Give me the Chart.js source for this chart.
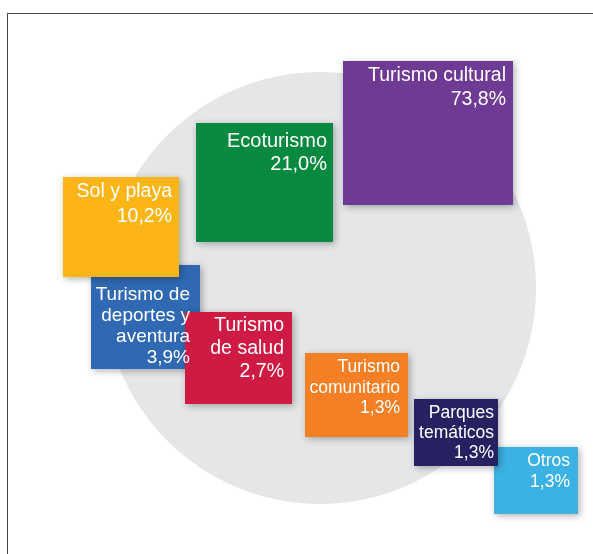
<!DOCTYPE html>
<html>
<head>
<meta charset="utf-8">
<script src="https://cdn.jsdelivr.net/npm/chart.js@4.4.1/dist/chart.umd.min.js"></script>
<style>
  html, body { margin: 0; padding: 0; background: #ffffff; }
  #wrap { position: relative; width: 593px; height: 554px; overflow: hidden; }
  #wrap canvas { position: absolute; left: 0; top: 0; }
  #frame {
    position: absolute; left: 7px; top: 13px; right: -2px; bottom: -2px;
    border-top: 1.5px solid #474747; border-left: 1.5px solid #474747;
    pointer-events: none;
  }
</style>
</head>
<body>
<div id="wrap">
  <canvas id="chart" width="593" height="554"></canvas>
  <div id="frame"></div>
</div>
<script>
// Tourism types (label lines) and their shares, in %
const categories = [
  ['Turismo cultural'],
  ['Ecoturismo'],
  ['Sol y playa'],
  ['Turismo de', 'deportes y', 'aventura'],
  ['Turismo', 'de salud'],
  ['Turismo', 'comunitario'],
  ['Parques', 'temáticos'],
  ['Otros']
];
const shares = [73.8, 21.0, 10.2, 3.9, 2.7, 1.3, 1.3, 1.3];

// Tile colours
const tileColors = ['#6f3a94', '#07893f', '#fcb517', '#2f69b3', '#cf1b43', '#f47f24', '#262262', '#3bb2e3'];

// Tile placement in plan units (x to the right, y downwards)
const tileLeft   = [343, 196,  63,  91, 185, 305, 414, 494];
const tileRight  = [513, 333, 179, 200, 292, 408, 498, 578];
const tileTop    = [ 61, 123, 177, 265, 312, 353, 399, 447];
const tileBottom = [205, 242, 277, 369, 404, 437, 466, 514];
// Painting order (later ones sit on top)
const drawOrder = [3, 0, 1, 2, 4, 5, 7, 6];

// Label styling per tile
const fontSizes   = [19.5, 20, 19.5, 19, 19.5, 17.5, 17.5, 17.5];
const lineHeights = [24, 23, 25, 21, 23, 20.5, 20, 21];
const textTop     = [20, 24, 20, 35, 19, 19, 19, 19];
const textRight   = [7, 6, 7, 10, 8, 8, 4, 8];

// Backdrop disc
const disc = { x: 320, y: 288, r: 216, color: '#e4e6e8' };

const fmtShare = v => v.toFixed(1).replace('.', ',') + '%';

const tilesPlugin = {
  id: 'tiles',
  beforeDatasetsDraw(chart) {
    const { ctx, scales: { x, y } } = chart;
    const cx = x.getPixelForValue(disc.x);
    const cy = y.getPixelForValue(disc.y);
    const r = x.getPixelForValue(disc.x + disc.r) - cx;
    ctx.save();
    ctx.beginPath();
    ctx.arc(cx, cy, r, 0, Math.PI * 2);
    ctx.fillStyle = disc.color;
    ctx.fill();
    ctx.restore();
  },
  afterDatasetsDraw(chart) {
    const { ctx, scales: { x, y } } = chart;
    const box = i => ({
      x0: x.getPixelForValue(tileLeft[i]),
      x1: x.getPixelForValue(tileRight[i]),
      y0: y.getPixelForValue(tileTop[i]),
      y1: y.getPixelForValue(tileBottom[i])
    });
    // tiles with a soft drop shadow
    drawOrder.forEach(i => {
      const b = box(i);
      ctx.save();
      ctx.shadowColor = 'rgba(0,0,0,0.30)';
      ctx.shadowBlur = 7;
      ctx.shadowOffsetX = 2;
      ctx.shadowOffsetY = 2;
      ctx.fillStyle = tileColors[i];
      ctx.fillRect(b.x0, b.y0, b.x1 - b.x0, b.y1 - b.y0);
      ctx.restore();
    });
    // labels go on top of every tile
    drawOrder.forEach(i => {
      const b = box(i);
      ctx.save();
      ctx.fillStyle = '#ffffff';
      ctx.textAlign = 'right';
      ctx.textBaseline = 'alphabetic';
      ctx.font = fontSizes[i] + 'px "Liberation Sans", Arial, Helvetica, sans-serif';
      const lines = categories[i].concat([fmtShare(shares[i])]);
      lines.forEach((line, k) => {
        ctx.fillText(line, b.x1 - textRight[i], b.y0 + textTop[i] + k * lineHeights[i]);
      });
      ctx.restore();
    });
  }
};

new Chart(document.getElementById('chart'), {
  type: 'scatter',
  data: {
    datasets: [{
      label: 'Tipos de turismo',
      data: shares.map((v, i) => ({
        x: (tileLeft[i] + tileRight[i]) / 2,
        y: (tileTop[i] + tileBottom[i]) / 2,
        share: v
      })),
      pointRadius: 0,
      pointHoverRadius: 0
    }]
  },
  options: {
    responsive: false,
    animation: false,
    layout: { padding: 0 },
    plugins: { legend: { display: false }, tooltip: { enabled: false } },
    scales: {
      x: { type: 'linear', min: 0, max: 593, display: false },
      y: { type: 'linear', min: 0, max: 554, reverse: true, display: false }
    }
  },
  plugins: [tilesPlugin]
});
</script>
</body>
</html>
